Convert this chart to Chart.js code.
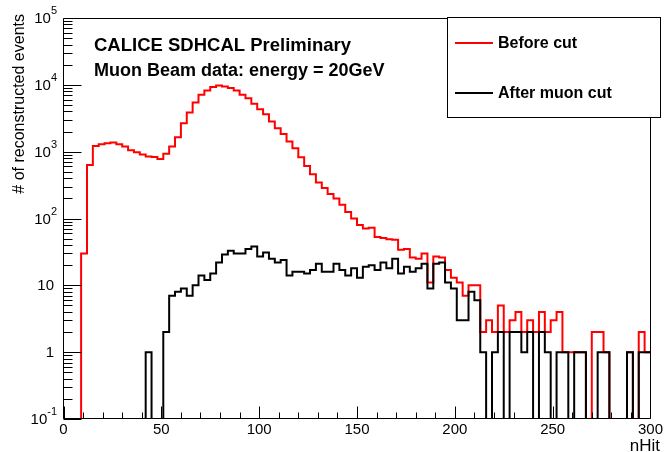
<!DOCTYPE html>
<html>
<head>
<meta charset="utf-8">
<script src="https://cdn.jsdelivr.net/npm/chart.js@4/dist/chart.umd.min.js"></script>
<style>
  html, body { margin: 0; padding: 0; background: #fff; }
  #wrap { width: 665px; height: 452px; }
</style>
</head>
<body>
<div id="wrap"><canvas id="c" width="665" height="452"></canvas></div>
<script>
// nHit histograms: 100 bins of width 3 from 0 to 300
const binWidth = 3;

const beforeCut = [
  0, 0, 0, 30, 630, 1220, 1295, 1340, 1370, 1295,
  1190, 1050, 980, 905, 845, 830, 780, 927, 1190, 1650,
  2670, 3850, 5430, 7080, 8220, 9250, 9770, 9440, 8930, 8220,
  7080, 6310, 5200, 4330, 3640, 2820, 2250, 1845, 1415, 1127,
  828, 612, 460, 345, 285, 232, 200, 160, 125, 100,
  80, 71, 73, 53, 51, 49, 48, 34, 35, 26,
  25, 30, 11, 27, 26, 17, 13, 11, 7, 10,
  10, 2, 3, 2, 5, 2, 3, 4, 2, 3,
  2, 4, 2, 3, 4, 1, 1, 1, 1, 0,
  2, 2, 1, 0, 0, 0, 1, 0, 2, 1
];

const afterMuonCut = [
  0, 0, 0, 0, 0, 0, 0, 0, 0, 0,
  0, 0, 0, 0, 1, 0, 0, 2, 7, 8,
  9, 7, 10, 14, 12, 15, 22, 29, 33, 30,
  30, 35, 38, 27, 31, 25, 22, 24, 14, 16,
  16, 15, 17, 21, 16, 16, 21, 17, 14, 18,
  13, 19, 20, 17, 22, 18, 25, 15, 19, 16,
  18, 21, 9, 21, 22, 11, 9, 3, 3, 8,
  6, 1, 0, 1, 2, 0, 2, 2, 1, 2,
  0, 2, 1, 0, 1, 1, 0, 1, 1, 0,
  0, 1, 1, 0, 0, 0, 1, 0, 1, 1
];

const seriesLabels = ['Before cut', 'After muon cut'];
const seriesColors = ['#ff0000', '#000000'];

const xTickLabels = ['0', '50', '100', '150', '200', '250', '300'];
const yTickValues = [0.1, 1, 10, 100, 1000, 10000, 100000];
const yTickBases = ['10', '1', '10', '10', '10', '10', '10'];
const yTickExps = ['-1', '', '', '2', '3', '4', '5'];

const xTitle = 'nHit';
const yTitle = '# of reconstructed events';
const annotationLines = ['CALICE SDHCAL Preliminary', 'Muon Beam data: energy = 20GeV'];

const Y_MIN = 0.1;
const Y_MAX = 100000;

const FONT = "'Liberation Sans', Arial, Helvetica, sans-serif";

// Step outline of a histogram: one point per lower bin edge plus the upper edge
// of the last bin; empty bins sit on the bottom of the log frame.
function histPoints(counts) {
  const pts = counts.map((c, i) => ({ x: i * binWidth, y: c > 0 ? c : Y_MIN }));
  const last = counts[counts.length - 1];
  pts.push({ x: counts.length * binWidth, y: last > 0 ? last : Y_MIN });
  return pts;
}

// ROOT-style frame: box, inward ticks, log labels, titles, text and legend
const rootStyle = {
  id: 'rootStyle',
  afterDatasetsDraw(chart) {
    const ctx = chart.ctx;
    const a = chart.chartArea;
    const xs = chart.scales.x;
    const ys = chart.scales.y;
    const L = Math.floor(a.left) + 0.5;
    const R = Math.floor(a.right) + 0.5;
    const T = Math.floor(a.top) + 0.5;
    const B = Math.floor(a.bottom) - 0.5;

    ctx.save();
    ctx.strokeStyle = '#000';
    ctx.lineWidth = 1;
    ctx.beginPath();
    ctx.rect(L, T, R - L, B - T);
    ctx.stroke();

    // x ticks: major every 50, minor every 10
    ctx.beginPath();
    for (let v = xs.min; v <= xs.max; v += 10) {
      const px = Math.round(xs.getPixelForValue(v)) + 0.5;
      const len = v % 50 === 0 ? 12 : 6;
      ctx.moveTo(px, B);
      ctx.lineTo(px, B - len);
    }
    // y ticks: decades long, 2..9 short
    for (let d = -1; d <= 5; d++) {
      for (let m = 1; m <= 9; m++) {
        const v = m * Math.pow(10, d);
        if (v > ys.max * 1.0001) break;
        const py = Math.round(ys.getPixelForValue(v)) + 0.5;
        const len = m === 1 ? 18 : 9;
        ctx.moveTo(L, py);
        ctx.lineTo(L + len, py);
      }
    }
    ctx.stroke();

    // y tick labels with exponents
    ctx.fillStyle = '#000';
    ctx.textBaseline = 'middle';
    yTickValues.forEach((v, i) => {
      const py = ys.getPixelForValue(v);
      const base = yTickBases[i];
      const exp = yTickExps[i];
      if (exp) {
        ctx.font = '11px ' + FONT;
        const ew = ctx.measureText(exp).width;
        const xr = 57;
        ctx.textAlign = 'left';
        ctx.fillText(exp, xr - ew, py - 7);
        ctx.font = '15px ' + FONT;
        ctx.textAlign = 'right';
        ctx.fillText(base, xr - ew, py + 1);
      } else {
        ctx.font = '15px ' + FONT;
        ctx.textAlign = 'right';
        ctx.fillText(base, 54, py + 1);
      }
    });

    // axis titles
    ctx.textBaseline = 'alphabetic';
    ctx.font = '17px ' + FONT;
    ctx.textAlign = 'right';
    ctx.fillText(xTitle, 660, 451);

    ctx.save();
    ctx.translate(24, 14);
    ctx.rotate(-Math.PI / 2);
    ctx.textAlign = 'right';
    ctx.font = '16px ' + FONT;
    ctx.fillText(yTitle, 0, 0);
    ctx.restore();

    // annotation text
    ctx.font = 'bold 18.5px ' + FONT;
    ctx.textAlign = 'left';
    ctx.fillText(annotationLines[0], 94, 51);
    ctx.font = 'bold 18px ' + FONT;
    ctx.fillText(annotationLines[1], 94, 76);

    // legend
    const lx = 447.5, ly = 17.5, lw = 213, lh = 100;
    ctx.fillStyle = '#fff';
    ctx.fillRect(lx, ly, lw, lh);
    ctx.strokeStyle = '#000';
    ctx.lineWidth = 1;
    ctx.strokeRect(lx, ly, lw, lh);
    const rows = [43, 93];
    chart.data.datasets.forEach((ds, i) => {
      const y = rows[i];
      ctx.strokeStyle = ds.borderColor;
      ctx.lineWidth = 2;
      ctx.beginPath();
      ctx.moveTo(455, y);
      ctx.lineTo(493, y);
      ctx.stroke();
      ctx.fillStyle = '#000';
      ctx.font = 'bold 16px ' + FONT;
      ctx.textAlign = 'left';
      ctx.textBaseline = 'middle';
      ctx.fillText(ds.label, 498, y + 1);
    });
    ctx.restore();
  }
};

new Chart(document.getElementById('c'), {
  type: 'line',
  data: {
    datasets: [
      {
        label: seriesLabels[0],
        data: histPoints(beforeCut),
        borderColor: seriesColors[0],
        borderWidth: 2,
        stepped: 'before',
        pointRadius: 0,
        fill: false,
        order: 2
      },
      {
        label: seriesLabels[1],
        data: histPoints(afterMuonCut),
        borderColor: seriesColors[1],
        borderWidth: 2,
        stepped: 'before',
        pointRadius: 0,
        fill: false,
        order: 1
      }
    ]
  },
  options: {
    responsive: false,
    animation: false,
    devicePixelRatio: 1,
    layout: { padding: { left: 0, top: 18, right: 11.5, bottom: 0 } },
    plugins: { legend: { display: false }, tooltip: { enabled: false } },
    scales: {
      x: {
        type: 'linear',
        position: 'bottom',
        min: 0,
        max: 300,
        grid: { display: false, drawTicks: false },
        border: { display: false },
        ticks: {
          stepSize: 50,
          autoSkip: false,
          maxRotation: 0,
          padding: 2,
          color: '#000',
          font: { family: FONT, size: 15 },
          callback: (v, i) => xTickLabels[i]
        },
        afterFit: (s) => { s.height = 33; }
      },
      y: {
        type: 'logarithmic',
        position: 'left',
        min: Y_MIN,
        max: Y_MAX,
        grid: { display: false, drawTicks: false },
        border: { display: false },
        ticks: { display: false },
        afterBuildTicks: (s) => { s.ticks = yTickValues.map(v => ({ value: v })); },
        afterFit: (s) => { s.width = 63.5; }
      }
    }
  },
  plugins: [rootStyle]
});
</script>
</body>
</html>
